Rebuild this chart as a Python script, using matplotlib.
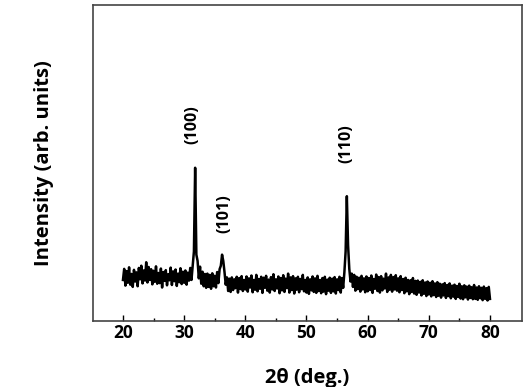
import numpy as np
import matplotlib
matplotlib.use('Agg')
import matplotlib.pyplot as plt

# 2theta grid 20..80 deg, step 0.2
two_theta_start = 20.0
two_theta_step = 0.2

intensity = [
  13.0, 16.5, 11.2, 15.8, 12.1, 17.0, 11.5, 14.9, 10.8, 16.2,
  12.5, 15.4, 11.0, 16.8, 13.2, 17.5, 11.9, 16.0, 12.8, 18.6,
  12.2, 17.1, 13.0, 16.4, 11.6, 15.9, 12.4, 17.3, 11.8, 15.2,
  12.0, 16.6, 10.6, 15.5, 12.7, 16.1, 11.3, 14.8, 12.9, 16.9,
  11.4, 15.7, 12.6, 16.3, 11.1, 15.0, 12.3, 16.7, 11.7, 15.6,
  12.1, 16.0, 11.5, 15.3, 12.8, 16.8, 13.0, 17.5, 22.0, 48.5,
  21.0, 19.0, 13.5, 17.2, 11.8, 15.6, 11.0, 14.9, 10.5, 15.0,
  10.8, 14.6, 10.2, 15.1, 11.0, 14.3, 10.6, 15.5, 12.0, 16.4,
  17.5, 21.0, 19.0, 15.5, 11.5, 13.8, 9.5, 13.4, 9.2, 13.8,
  9.8, 13.2, 10.4, 14.0, 9.0, 13.6, 10.1, 14.2, 9.5, 13.0,
  10.0, 14.1, 9.3, 13.5, 10.6, 14.4, 9.1, 13.0, 9.9, 14.6,
  9.4, 13.3, 10.2, 14.0, 8.9, 13.7, 10.5, 14.3, 9.6, 13.1,
  9.0, 13.9, 10.0, 14.8, 9.5, 13.2, 10.3, 14.1, 8.8, 13.6,
  9.7, 14.5, 9.2, 13.4, 10.4, 15.0, 9.0, 13.8, 9.8, 14.2,
  8.7, 13.5, 9.9, 14.0, 9.1, 13.3, 10.1, 14.6, 9.4, 13.0,
  9.0, 13.8, 8.6, 13.2, 9.7, 14.1, 9.2, 13.5, 8.9, 14.3,
  9.5, 13.0, 8.8, 13.6, 9.3, 14.0, 8.5, 13.1, 9.6, 13.7,
  8.9, 13.4, 9.4, 13.9, 8.7, 13.2, 9.8, 14.0, 9.0, 13.6,
  10.5, 15.5, 22.0, 39.5, 24.0, 16.5, 12.5, 15.0, 10.8, 14.6,
  9.6, 14.0, 10.1, 13.7, 9.3, 14.3, 10.0, 13.5, 9.1, 14.1,
  9.4, 13.6, 9.8, 14.4, 8.9, 13.3, 10.2, 14.7, 9.5, 13.9,
  9.0, 14.2, 9.7, 13.4, 10.3, 15.0, 9.2, 13.8, 9.9, 14.6,
  9.3, 13.9, 10.0, 14.5, 9.6, 13.5, 9.1, 14.2, 9.8, 13.3,
  8.8, 13.7, 9.4, 13.0, 8.5, 12.9, 9.2, 13.6, 8.7, 12.7,
  8.3, 12.8, 9.0, 12.4, 8.1, 12.9, 8.6, 12.2, 7.9, 12.5,
  8.4, 12.1, 7.8, 12.6, 8.2, 11.9, 7.6, 12.3, 8.0, 11.8,
  7.4, 11.6, 8.1, 12.0, 7.3, 11.4, 7.9, 11.9, 7.2, 11.2,
  7.7, 11.5, 7.0, 11.1, 7.6, 11.8, 7.1, 11.0, 6.9, 11.3,
  7.5, 10.9, 6.8, 11.2, 7.3, 10.7, 6.9, 11.4, 7.0, 10.6,
  6.7, 11.0, 7.2, 10.5, 6.6, 10.9, 7.0, 10.4, 6.5, 10.8,
  7.0,
]

peak_labels = ['(100)', '(101)', '(110)']
peak_pos = [31.3, 36.5, 56.5]
peak_label_y = [62, 34, 56]

two_theta = two_theta_start + two_theta_step * np.arange(len(intensity))

plt.rcParams['font.family'] = ['Open Sans', 'DejaVu Sans']

fig = plt.figure(figsize=(5.32, 3.87), dpi=100)
ax = fig.add_axes([0.1748, 0.1705, 0.806, 0.8165])

ax.plot(two_theta, intensity, c='black', linewidth=1.8)

for lab, xp, yp in zip(peak_labels, peak_pos, peak_label_y):
  ax.text(xp, yp, lab, rotation=90, ha='center', va='center', fontsize=11.5, fontweight='bold')

ax.set_xlim(15.1, 85.2)
ax.set_ylim(0, 100)
ax.set_xticks(range(20, 81, 10))
ax.set_xticks(range(25, 80, 10), minor=True)
ax.set_yticks([])
ax.tick_params(axis='x', direction='in', length=4, width=1, labelsize=12.5, pad=2)
ax.tick_params(axis='x', which='minor', direction='in', length=2.5, width=1)
for lbl in ax.get_xticklabels():
  lbl.set_fontweight('bold')
for s in ax.spines.values():
  s.set_color('#444444')
  s.set_linewidth(1.2)

ax.set_xlabel('2θ (deg.)', fontsize=14.5, fontweight='bold', labelpad=19)
ax.set_ylabel('Intensity (arb. units)', fontsize=14.5, fontweight='bold', labelpad=28)

fig.savefig('out.png', dpi=100)
